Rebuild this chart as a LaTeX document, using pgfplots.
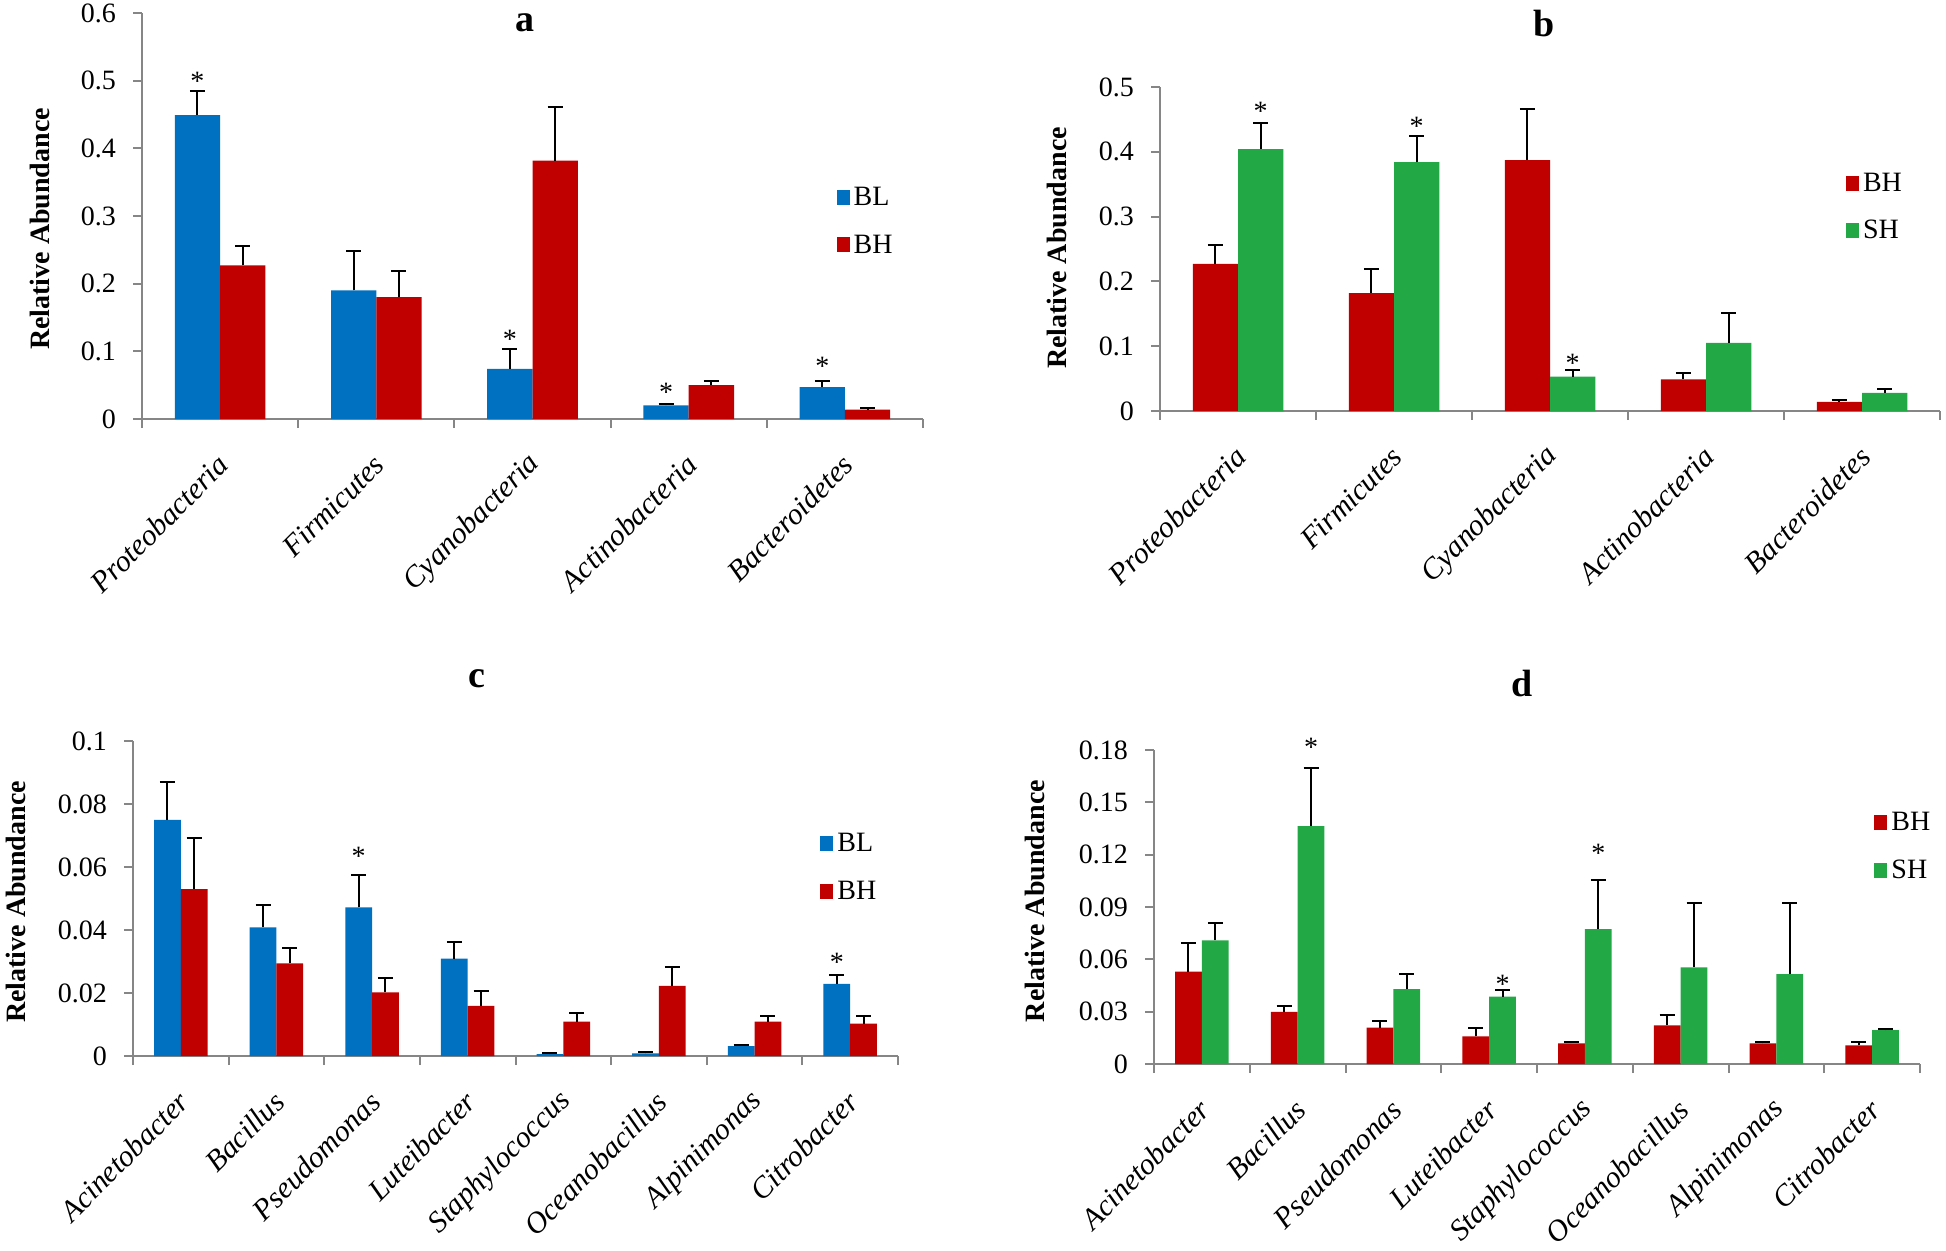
\documentclass[border=0pt]{standalone}
\usepackage{pgfplots}
\pgfplotsset{compat=1.18}
\usepackage{pgfplotstable}
\usepackage{fontspec}
\setmainfont{Liberation Serif}

\definecolor{blBlue}{RGB}{0,112,192}
\definecolor{bhRed}{RGB}{192,0,0}
\definecolor{shGreen}{RGB}{35,168,70}
\definecolor{axGray}{RGB}{134,134,134}

% panel a: BL vs BH, phyla
\pgfplotstableread{
x   v1    e1    v2    e2
0.5 0.449 0.035 0.227 0.028
1.5 0.190 0.058 0.180 0.038
2.5 0.074 0.029 0.382 0.079
3.5 0.020 0.002 0.050 0.006
4.5 0.047 0.009 0.014 0.003
}\dataA
% panel b: BH vs SH, phyla
\pgfplotstableread{
x   v1    e1    v2    e2
0.5 0.227 0.029 0.404 0.040
1.5 0.182 0.037 0.384 0.041
2.5 0.387 0.079 0.053 0.010
3.5 0.049 0.010 0.105 0.047
4.5 0.014 0.003 0.028 0.006
}\dataB
% panel c: BL vs BH, genera
\pgfplotstableread{
x   v1     e1     v2     e2
0.5 0.0750 0.0119 0.0530 0.0161
1.5 0.0408 0.0070 0.0294 0.0048
2.5 0.0472 0.0104 0.0202 0.0046
3.5 0.0309 0.0054 0.0159 0.0048
4.5 0.0006 0.0002 0.0109 0.0026
5.5 0.0008 0.0004 0.0223 0.0061
6.5 0.0031 0.0004 0.0109 0.0019
7.5 0.0229 0.0028 0.0103 0.0025
}\dataC
% panel d: BH vs SH, genera
\pgfplotstableread{
x   v1     e1     v2     e2
0.5 0.0530 0.0161 0.0709 0.0101
1.5 0.0299 0.0034 0.1364 0.0333
2.5 0.0208 0.0036 0.0429 0.0085
3.5 0.0158 0.0048 0.0387 0.0038
4.5 0.0118 0.0010 0.0773 0.0282
5.5 0.0221 0.0061 0.0554 0.0370
6.5 0.0118 0.0006 0.0516 0.0408
7.5 0.0107 0.0021 0.0194 0.0004
}\dataD

\pgfplotsset{
  panel/.style={
    scale only axis, anchor=south west, clip=false,
    axis lines*=left,
    axis line style={axGray, line width=1pt},
    tick align=outside,
    xmin=0, ymin=0,
    major tick length=4.5pt,
    tick style={axGray, line width=1pt},
    xticklabels={},
    extra x tick style={major tick length=0pt,
      xticklabel style={anchor=east, xshift=4pt, yshift=-18pt, rotate=45,
        font=\itshape\fontsize{15}{15}\selectfont}},
    yticklabel style={font=\fontsize{14}{14}\selectfont, xshift=-5pt,
      /pgf/number format/fixed, /pgf/number format/precision=3},
    /pgf/number format/assume math mode=true,
    scaled y ticks=false,
    ylabel={Relative Abundance},
    ylabel style={font=\bfseries\fontsize{14}{14}\selectfont, anchor=center, rotate=0},
    title style={font=\bfseries\fontsize{19}{19}\selectfont, anchor=center, yshift=-4pt},
    legend style={draw=none, fill=none, inner sep=0pt, anchor=west,
      font=\fontsize{14}{14}\selectfont, row sep=9pt, cells={anchor=west}},
    legend image code/.code={\fill[##1] (0pt,-3.5pt) rectangle (6.5pt,4pt);},
  },
  bars/.style n args={2}{ybar, bar width=#2, bar shift=0pt, draw=none, fill=#1,
    error bars/.cd, y dir=plus, y explicit,
    error bar style={black, line width=1pt},
    error mark options={black, rotate=90, mark size=3.75pt, line width=1pt}},
  stars/.style={forget plot, only marks, mark=none, nodes near coords={*},
    every node near coord/.style={anchor=center, yshift=-2pt, text=black,
      font=\fontsize{14}{14}\selectfont}},
}

\begin{document}
\begin{tikzpicture}
\path[use as bounding box] (0,0) rectangle (973pt,625pt);

% ---- a ----
\begin{axis}[panel, at={(71pt,415.5pt)}, width=390.5pt, height=203pt,
  xmax=5, ymax=0.6, xtick={0,...,5}, ytick={0,0.1,...,0.6},
  extra x ticks={0.5,1.5,2.5,3.5,4.5},
  extra x tick labels={Proteobacteria,Firmicutes,Cyanobacteria,Actinobacteria,Bacteroidetes},
  title={a}, title style={at={(axis description cs:0.49,0.966)}},
  ylabel style={at={(axis description cs:-0.131,0.468)}},
  legend style={at={(axis description cs:0.889,0.486)}}]
\addplot[bars={blBlue}{0.29}] table[x expr=\thisrow{x}-0.145, y=v1, y error=e1] {\dataA};
\addlegendentry{BL}
\addplot[bars={bhRed}{0.29}] table[x expr=\thisrow{x}+0.145, y=v2, y error=e2] {\dataA};
\addlegendentry{BH}
\addplot[stars] coordinates {(0.355,0.505) (2.355,0.124) (3.355,0.046) (4.355,0.084)};
\end{axis}

% ---- b ----
\begin{axis}[panel, at={(580pt,419.5pt)}, width=390pt, height=162pt,
  xmax=5, ymax=0.5, xtick={0,...,5}, ytick={0,0.1,...,0.5},
  extra x ticks={0.5,1.5,2.5,3.5,4.5},
  extra x tick labels={Proteobacteria,Firmicutes,Cyanobacteria,Actinobacteria,Bacteroidetes},
  title={b}, title style={at={(axis description cs:0.492,1.185)}},
  ylabel style={at={(axis description cs:-0.132,0.503)}},
  legend style={at={(axis description cs:0.879,0.628)}}]
\addplot[bars={bhRed}{0.29}] table[x expr=\thisrow{x}-0.145, y=v1, y error=e1] {\dataB};
\addlegendentry{BH}
\addplot[bars={shGreen}{0.29}] table[x expr=\thisrow{x}+0.145, y=v2, y error=e2] {\dataB};
\addlegendentry{SH}
\addplot[stars] coordinates {(0.645,0.468) (1.645,0.446) (2.645,0.079)};
\end{axis}

% ---- c ----
\begin{axis}[panel, at={(66.5pt,97pt)}, width=382.5pt, height=157.5pt,
  xmax=8, ymax=0.1, xtick={0,...,8}, ytick={0,0.02,0.04,0.06,0.08,0.1},
  extra x ticks={0.5,1.5,2.5,3.5,4.5,5.5,6.5,7.5},
  extra x tick labels={Acinetobacter,Bacillus,Pseudomonas,Luteibacter,Staphylococcus,Oceanobacillus,Alpinimonas,Citrobacter},
  title={c}, title style={at={(axis description cs:0.45,1.184)}},
  ylabel style={at={(axis description cs:-0.153,0.489)}},
  legend style={at={(axis description cs:0.898,0.597)}}]
\addplot[bars={blBlue}{0.28}] table[x expr=\thisrow{x}-0.14, y=v1, y error=e1] {\dataC};
\addlegendentry{BL}
\addplot[bars={bhRed}{0.28}] table[x expr=\thisrow{x}+0.14, y=v2, y error=e2] {\dataC};
\addlegendentry{BH}
\addplot[stars] coordinates {(2.36,0.0648) (7.36,0.0311)};
\end{axis}

% ---- d ----
\begin{axis}[panel, at={(577pt,93pt)}, width=383pt, height=157pt,
  xmax=8, ymax=0.18, xtick={0,...,8}, ytick={0,0.03,0.06,0.09,0.12,0.15,0.18},
  extra x ticks={0.5,1.5,2.5,3.5,4.5,5.5,6.5,7.5},
  extra x tick labels={Acinetobacter,Bacillus,Pseudomonas,Luteibacter,Staphylococcus,Oceanobacillus,Alpinimonas,Citrobacter},
  title={d}, title style={at={(axis description cs:0.48,1.2)}},
  ylabel style={at={(axis description cs:-0.155,0.519)}},
  legend style={at={(axis description cs:0.94,0.691)}}]
\addplot[bars={bhRed}{0.28}] table[x expr=\thisrow{x}-0.14, y=v1, y error=e1] {\dataD};
\addlegendentry{BH}
\addplot[bars={shGreen}{0.28}] table[x expr=\thisrow{x}+0.14, y=v2, y error=e2] {\dataD};
\addlegendentry{SH}
\addplot[stars] coordinates {(1.64,0.184) (3.64,0.0482) (4.64,0.1232)};
\end{axis}
\end{tikzpicture}
\end{document}
